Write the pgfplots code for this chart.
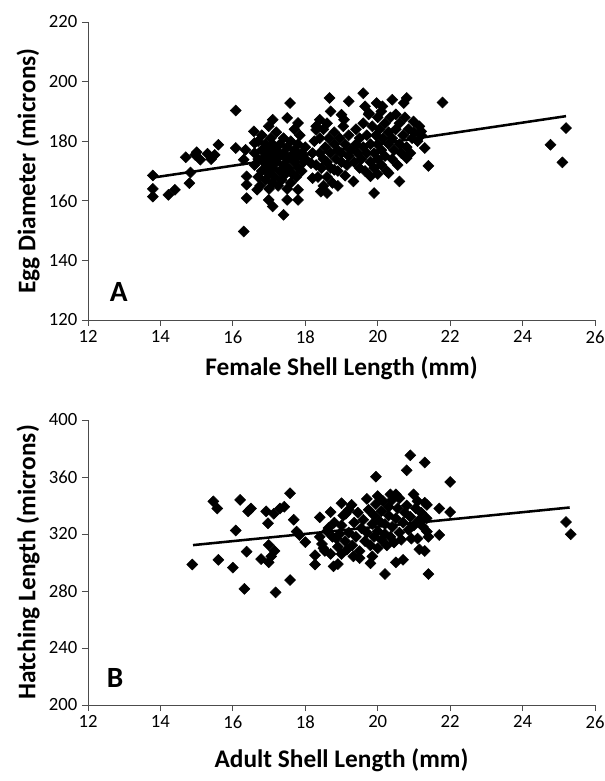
\documentclass[border=0pt]{standalone}
\usepackage{fontspec}
\setmainfont{Carlito}
\usepackage{pgfplots}
\pgfplotsset{compat=1.18}
\pgfplotsset{
  panel/.style={
    scale only axis, width=380.25pt, xmin=12, xmax=26, xtick={12,14,...,26},
    axis lines=left, axis line style={-, line width=0.7pt, black!70},
    tick align=outside, major tick length=4.5pt, tick style={line width=0.7pt, black!70},
    ticklabel style={font=\fontsize{14}{16}\selectfont},
    /pgf/number format/assume math mode=true,
    label style={font=\bfseries\fontsize{19}{22}\selectfont},
    clip=false,
  },
  pts/.style={only marks, mark=square*, mark size=2.9pt, mark options={rotate=45, fill=black, draw=black}},
}
\pgfplotstableread{
x y
13.79 168.5
13.79 164.0
13.79 161.4
14.22 162.0
14.4 163.7
14.7 174.6
14.8 165.9
14.83 169.5
14.96 175.4
15.0 176.3
15.1 173.8
15.3 175.8
15.4 174.0
15.5 175.4
15.6 178.8
16.08 190.3
16.08 177.7
16.3 173.8
16.35 177.1
16.38 168.2
16.38 165.4
16.38 160.9
16.3 149.7
16.58 183.3
16.6 179.4
16.67 163.7
16.99 185.0
17.1 187.2
16.99 160.3
17.1 158.1
17.4 155.3
17.5 187.8
17.58 192.8
17.5 160.3
17.8 160.3
17.8 163.7
17.8 186.1
18.16 172.6
18.2 167.6
18.3 183.8
18.4 187.2
18.43 163.1
18.6 162.6
18.67 194.5
18.7 190.0
18.8 170.4
18.9 165.0
19.0 188.9
19.07 187.2
19.1 168.4
19.2 193.4
19.33 166.5
19.6 196.1
19.65 191.7
19.76 189.4
19.8 168.2
19.9 162.6
19.97 192.8
20.13 191.7
20.3 169.3
20.4 193.9
20.6 166.5
20.72 192.8
20.8 194.5
20.8 174.3
20.99 186.6
21.2 183.3
21.3 177.7
21.4 171.7
21.79 193.0
24.77 178.8
25.1 172.9
25.2 184.4
16.6 172
16.6 176
16.7 168
16.7 174
16.7 180
16.75 165
16.8 170
16.8 177
16.8 182
16.85 173
16.9 167
16.9 175
16.9 179
16.95 171
17.0 164
17.0 169
17.0 173
17.0 177
17.05 181
17.1 166
17.1 171
17.1 175
17.1 179
17.15 168
17.2 173
17.2 177
17.2 183
17.25 165
17.3 170
17.3 175
17.3 179
17.35 167
17.4 172
17.4 176
17.4 181
17.45 169
17.5 164
17.5 174
17.5 178
17.55 171
17.6 166
17.6 175
17.6 180
17.65 169
17.7 173
17.7 177
17.7 184
17.75 168
17.8 171
17.8 175
17.8 179
17.85 182
17.9 170
17.9 176
17.95 173
18.0 178
18.0 174
18.2 176
18.25 180
18.3 172
18.3 185
18.35 168
18.4 176
18.4 181
18.45 171
18.5 165
18.5 174
18.5 184
18.55 178
18.6 168
18.6 173
18.6 186
18.65 181
18.7 176
18.7 171
18.75 166
18.8 179
18.8 183
18.85 174
18.9 170
18.9 177
18.95 181
19.0 173
19.0 176
19.05 185
19.1 179
19.15 172
19.2 175
19.2 182
19.25 177
19.35 173
19.4 179
19.4 184
19.45 176
19.5 171
19.5 181
19.55 174
19.6 178
19.6 186
19.65 170
19.7 176
19.7 182
19.75 189
19.8 173
19.8 179
19.85 185
19.9 171
19.9 176
19.95 182
20.0 169
20.0 174
20.0 179
20.0 188
20.05 184
20.1 172
20.1 177
20.1 190
20.15 181
20.2 175
20.2 186
20.25 170
20.3 179
20.3 183
20.35 188
20.4 174
20.4 181
20.45 177
20.5 184
20.5 189
20.55 172
20.6 179
20.6 186
20.65 176
20.7 182
20.75 188
20.8 178
20.85 184
20.9 176
20.95 181
21.0 183
21.1 180
21.15 185
21.2 182
}\dataA
\pgfplotstableread{
x y
14.88 298.6
15.46 342.9
15.57 337.9
15.6 301.9
16.0 296.4
16.08 322.5
16.2 343.9
16.32 281.5
16.38 307.6
16.42 335.9
16.5 337.9
16.78 302.4
16.92 335.9
16.97 327.5
16.99 312.3
16.99 300.1
17.06 304.3
17.13 334.2
17.18 279.0
17.15 308.1
17.3 337.9
17.42 339.1
17.58 348.6
17.58 287.7
17.68 330.0
17.76 321.7
17.84 319.3
18.0 314.3
18.27 298.6
18.27 305.1
18.4 331.7
18.46 313.0
18.54 308.1
18.64 324.2
18.7 335.4
18.78 297.3
18.9 298.9
18.86 316.8
19.0 341.6
19.12 334.2
19.28 340.4
19.33 304.3
19.5 303.1
19.7 344.6
19.8 299.4
19.95 360.2
19.85 304.3
20.0 346.6
20.2 291.9
20.35 347.8
20.5 347.8
20.5 300.1
20.7 301.9
20.8 364.7
20.9 375.2
20.93 316.8
20.99 347.8
21.1 316.8
21.15 309.2
21.3 370.2
21.3 308.1
21.36 340.4
21.36 321.7
21.4 291.9
21.7 337.9
21.7 319.3
22.0 356.5
22.0 335.4
25.2 328.4
25.33 319.8
18.4 318
18.5 310
18.6 322
18.7 306
18.75 318
18.8 328
18.9 311
18.95 320
19.0 306
19.0 326
19.05 333
19.1 315
19.15 309
19.2 321
19.2 337
19.3 312
19.35 328
19.4 318
19.45 335
19.5 308
19.55 324
19.6 330
19.65 315
19.7 321
19.75 337
19.8 312
19.85 327
19.9 318
19.9 333
19.95 341
20.0 310
20.0 322
20.05 329
20.1 316
20.1 336
20.15 343
20.2 320
20.2 327
20.25 312
20.3 333
20.3 339
20.35 318
20.4 325
20.4 344
20.45 314
20.5 331
20.55 338
20.6 321
20.6 345
20.65 316
20.7 328
20.75 335
20.8 340
20.85 323
20.9 332
21.0 326
21.05 338
21.1 343
21.15 330
21.2 335
21.25 325
21.3 342
21.35 331
21.4 318
}\dataB
\begin{document}
\begin{tikzpicture}
\path[use as bounding box] (-66pt,-57pt) rectangle (387.75pt,528.75pt);
\begin{axis}[panel, at={(0pt,288.75pt)}, anchor=south west, height=223.5pt,
  ymin=120, ymax=220, ytick={120,140,...,220},
  xlabel={Female Shell Length (mm)}, ylabel={Egg Diameter (microns)},
  xlabel style={at={(axis description cs:0.5,-0.161)}, anchor=center},
  ylabel style={at={(axis description cs:-0.1183,0.5)}, anchor=center}]
\addplot[pts] table[x=x,y=y] {\dataA};
\addplot[no marks, line width=1.9pt, black] coordinates {(13.8,167.8) (25.2,188.4)};
\node[font=\bfseries\fontsize{22}{26}\selectfont] at (axis cs:12.85,129.5) {A};
\end{axis}
\begin{axis}[panel, at={(0pt,0pt)}, anchor=south west, height=213.75pt,
  ymin=200, ymax=400, ytick={200,240,...,400},
  xlabel={Adult Shell Length (mm)}, ylabel={Hatching Length (microns)},
  xlabel style={at={(axis description cs:0.5,-0.193)}, anchor=center},
  ylabel style={at={(axis description cs:-0.1183,0.5)}, anchor=center}]
\addplot[pts] table[x=x,y=y] {\dataB};
\addplot[no marks, line width=1.9pt, black] coordinates {(14.9,312.2) (25.3,338.6)};
\node[font=\bfseries\fontsize{22}{26}\selectfont] at (axis cs:12.75,219) {B};
\end{axis}
\end{tikzpicture}
\end{document}
